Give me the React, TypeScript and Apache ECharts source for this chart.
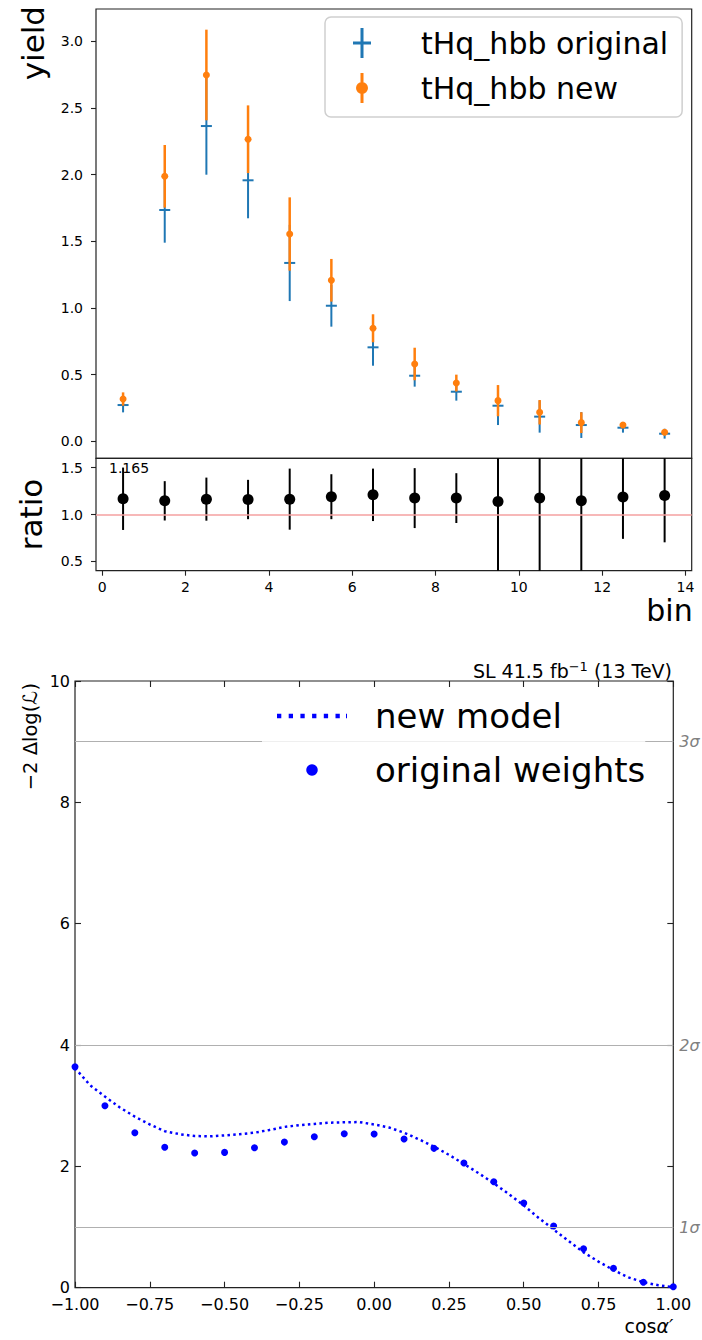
import React, { useEffect, useRef } from "react";
import * as echarts from "echarts";

// ---------- data: top panel (yields) ----------
const binCenters = [0.5, 1.5, 2.5, 3.5, 4.5, 5.5, 6.5, 7.5, 8.5, 9.5, 10.5, 11.5, 12.5, 13.5];
const originalYield = [0.272, 1.735, 2.365, 1.958, 1.338, 1.017, 0.705, 0.492, 0.372, 0.267, 0.185, 0.122, 0.102, 0.057];
const originalErr = [0.055, 0.245, 0.365, 0.285, 0.286, 0.157, 0.138, 0.082, 0.067, 0.145, 0.12, 0.097, 0.037, 0.037];
const newYield = [0.317, 1.988, 2.748, 2.266, 1.555, 1.208, 0.848, 0.58, 0.437, 0.305, 0.218, 0.14, 0.122, 0.068];
const newErr = [0.05, 0.235, 0.34, 0.254, 0.275, 0.16, 0.105, 0.122, 0.063, 0.117, 0.092, 0.078, 0.02, 0.015];

// ---------- data: ratio panel ----------
const ratioValues = [1.168, 1.146, 1.164, 1.16, 1.164, 1.19, 1.21, 1.175, 1.175, 1.139, 1.175, 1.146, 1.186, 1.203];
const ratioErr = [0.333, 0.21, 0.23, 0.21, 0.326, 0.24, 0.28, 0.32, 0.266, 0.85, 0.85, 0.85, 0.446, 0.5];
const ratioMeanLabel = "1.165";

// ---------- tick labels ----------
const yieldTicks = [0, 0.5, 1.0, 1.5, 2.0, 2.5, 3.0];
const ratioTicks = [0.5, 1.0, 1.5];
const binTicks = [0, 2, 4, 6, 8, 10, 12, 14];

// ---------- data: likelihood scan ----------
const cosAlphaPoints = [-1, -0.9, -0.8, -0.7, -0.6, -0.5, -0.4, -0.3, -0.2, -0.1, 0, 0.1, 0.2, 0.3, 0.4, 0.5, 0.6, 0.7, 0.8, 0.9, 1];
const originalWeights = [3.64, 3.0, 2.555, 2.314, 2.22, 2.23, 2.307, 2.4, 2.489, 2.538, 2.533, 2.45, 2.297, 2.055, 1.747, 1.396, 1.017, 0.643, 0.32, 0.089, 0.016];
const modelX = [-1, -0.95, -0.9, -0.85, -0.8, -0.75, -0.7, -0.65, -0.6, -0.55, -0.5, -0.45, -0.4, -0.35, -0.3, -0.25, -0.2, -0.15, -0.1, -0.05, 0, 0.05, 0.1, 0.15, 0.2, 0.25, 0.3, 0.35, 0.4, 0.45, 0.5, 0.55, 0.6, 0.65, 0.7, 0.75, 0.8, 0.85, 0.9, 0.95, 1];
const modelNll = [3.62, 3.34, 3.15, 2.97, 2.82, 2.69, 2.58, 2.53, 2.5, 2.495, 2.51, 2.53, 2.555, 2.6, 2.65, 2.68, 2.7, 2.72, 2.726, 2.73, 2.69, 2.64, 2.555, 2.445, 2.325, 2.19, 2.04, 1.885, 1.72, 1.545, 1.357, 1.15, 0.96, 0.77, 0.583, 0.43, 0.29, 0.17, 0.09, 0.04, 0.01];
const sigmaLevels = [1, 4, 9];
const sigmaLabels = ["1σ", "2σ", "3σ"];

const FONT = "DejaVu Sans";
const BLUE = "#1f77b4";
const ORANGE = "#ff7f0e";
const AX = "#222222";

const plusIcon = "path://M7.5 0H10.5V13.5H18V16.5H10.5V30H7.5V16.5H0V13.5H7.5Z";
const dotIcon = "path://M7.5 0H10.5V30H7.5Z M15 15A6 6 0 1 1 3 15A6 6 0 1 1 15 15Z";
const dottedLineIcon =
  "path://M0 0H4.3V4.3H0Z M11.7 0H16V4.3H11.7Z M23.4 0H27.7V4.3H23.4Z M35.1 0H39.4V4.3H35.1Z M46.8 0H51.1V4.3H46.8Z M58.5 0H62.8V4.3H58.5Z M69 0H70V4.3H69Z";

function clampY(v: number, cs: any) {
  return Math.max(cs.y, Math.min(cs.y + cs.height, v));
}

function makeErrorRender(kind: "plus" | "dot" | "bar", color: string, lw: number) {
  return (params: any, api: any) => {
    const x = api.value(0);
    const y = api.value(1);
    const e = api.value(2);
    const cs = params.coordSys;
    const c = api.coord([x, y]);
    const t = clampY(api.coord([x, y + e])[1], cs);
    const b = clampY(api.coord([x, y - e])[1], cs);
    const children: any[] = [
      { type: "line", shape: { x1: c[0], y1: t, x2: c[0], y2: b }, style: { stroke: color, lineWidth: lw } },
    ];
    if (kind === "plus") {
      children.push({ type: "line", shape: { x1: c[0] - 5.5, y1: c[1], x2: c[0] + 5.5, y2: c[1] }, style: { stroke: color, lineWidth: 2 } });
    } else if (kind === "dot") {
      children.push({ type: "circle", shape: { cx: c[0], cy: c[1], r: 3.5 }, style: { fill: color } });
    }
    return { type: "group", children };
  };
}

const tickStyle = { color: AX, width: 1.1 };
const labelStyle = (fs: number, margin: number) => ({ fontSize: fs, color: "#000", fontFamily: FONT, margin });
const noLine = { show: false, onZero: false };

export default function App() {
  const ref = useRef<HTMLDivElement>(null);
  useEffect(() => {
    document.body.style.margin = "0";
    if (!ref.current) return;
    const chart = echarts.init(ref.current, undefined, { renderer: "svg" });

    const origData = binCenters.map((x, i) => [x, originalYield[i], originalErr[i]]);
    const newData = binCenters.map((x, i) => [x, newYield[i], newErr[i]]);
    const ratioData = binCenters.map((x, i) => [x, ratioValues[i], ratioErr[i]]);

    const gridFrame = { show: true, borderColor: AX, borderWidth: 1.2, backgroundColor: "transparent" };

    const option: any = {
      animation: false,
      backgroundColor: "#ffffff",
      textStyle: { fontFamily: FONT },
      title: {
        text: "SL 41.5 fb{sup|−1} (13 TeV)",
        right: 30,
        top: 660,
        padding: 0,
        textStyle: {
          fontSize: 19,
          fontWeight: "normal",
          color: "#000",
          fontFamily: FONT,
          lineHeight: 22,
          rich: { sup: { fontSize: 13, verticalAlign: "top", lineHeight: 22, fontFamily: FONT, color: "#000" } },
        },
      },
      grid: [
        { left: 96, top: 9, width: 595.7, height: 449.3, ...gridFrame },
        { left: 96, top: 458.3, width: 595.7, height: 112.4, ...gridFrame },
        { left: 75, top: 681, width: 598.3, height: 606.7, ...gridFrame },
      ],
      xAxis: [
        { gridIndex: 0, type: "value", min: -0.15, max: 14.15, show: false, axisLine: noLine },
        {
          gridIndex: 1,
          type: "value",
          min: -0.15,
          max: 14.15,
          axisLine: noLine,
          splitLine: { show: false },
          axisTick: { show: true, customValues: binTicks, length: 5, lineStyle: tickStyle },
          axisLabel: { customValues: binTicks, ...labelStyle(14, 9) },
          name: "bin",
          nameLocation: "end",
          nameGap: 1,
          nameTextStyle: { fontSize: 30, color: "#000", fontFamily: FONT, align: "right", verticalAlign: "top", padding: [25, 0, 0, 0] },
        },
        {
          gridIndex: 2,
          type: "value",
          min: -1,
          max: 1,
          interval: 0.25,
          axisLine: noLine,
          splitLine: { show: false },
          axisTick: { show: true, inside: true, length: 6, lineStyle: tickStyle },
          axisLabel: {
            ...labelStyle(16, 9),
            lineHeight: 16,
            formatter: (v: number) => (v < 0 ? "−" : "") + Math.abs(v).toFixed(2),
          },
          name: "cos{it|α′}",
          nameLocation: "end",
          nameGap: 0,
          nameTextStyle: {
            fontSize: 19,
            color: "#000",
            fontFamily: FONT,
            align: "right",
            verticalAlign: "top",
            padding: [29, 0, 0, 0],
            rich: { it: { fontSize: 19, fontStyle: "italic", fontFamily: FONT, color: "#000" } },
          },
        },
        {
          gridIndex: 2,
          type: "value",
          position: "top",
          min: -1,
          max: 1,
          interval: 0.25,
          axisLine: noLine,
          splitLine: { show: false },
          axisTick: { show: true, inside: true, length: 6, lineStyle: tickStyle },
          axisLabel: { show: false },
        },
      ],
      yAxis: [
        {
          gridIndex: 0,
          type: "value",
          min: -0.1275,
          max: 3.243,
          axisLine: noLine,
          splitLine: { show: false },
          axisTick: { show: true, customValues: yieldTicks, length: 5, lineStyle: tickStyle },
          axisLabel: { customValues: yieldTicks, formatter: (v: number) => v.toFixed(1), ...labelStyle(14, 13) },
        },
        {
          gridIndex: 1,
          type: "value",
          min: 0.4,
          max: 1.6,
          axisLine: noLine,
          splitLine: { show: false },
          axisTick: { show: true, customValues: ratioTicks, length: 5, lineStyle: tickStyle },
          axisLabel: { customValues: ratioTicks, formatter: (v: number) => v.toFixed(1), ...labelStyle(14, 13) },
        },
        {
          gridIndex: 2,
          type: "value",
          min: 0,
          max: 10,
          interval: 2,
          axisLine: noLine,
          splitLine: { show: false },
          axisTick: { show: true, inside: true, length: 6, lineStyle: tickStyle },
          axisLabel: { ...labelStyle(16, 5), lineHeight: 14 },
        },
        {
          gridIndex: 2,
          type: "value",
          position: "right",
          min: 0,
          max: 10,
          interval: 2,
          axisLine: noLine,
          splitLine: { show: false },
          axisTick: { show: true, inside: true, length: 6, lineStyle: tickStyle },
          axisLabel: { show: false },
        },
      ],
      legend: [
        {
          data: [
            { name: "tHq_hbb original", icon: plusIcon },
            { name: "tHq_hbb new", icon: dotIcon },
          ],
          orient: "vertical",
          left: 325,
          top: 17,
          padding: [8, 14, 11, 28],
          itemWidth: 30,
          itemHeight: 30,
          itemGap: 9,
          selectedMode: false,
          z: 10,
          textStyle: { fontSize: 30, lineHeight: 36, color: "#000", fontFamily: FONT, padding: [0, 0, 0, 39] },
          borderColor: "#cfcfcf",
          borderWidth: 1.5,
          borderRadius: 6,
          backgroundColor: "#ffffff",
        },
        {
          data: [
            { name: "new model", icon: dottedLineIcon },
            { name: "original weights", icon: "circle" },
          ],
          orient: "vertical",
          left: 262,
          top: 690,
          padding: [6, 0, 6, 15],
          itemWidth: 70,
          itemHeight: 11.5,
          itemGap: 14,
          selectedMode: false,
          z: 10,
          textStyle: { fontSize: 34, lineHeight: 40, color: "#000", fontFamily: FONT, padding: [0, 0, 0, 23] },
          backgroundColor: "rgba(255,255,255,0.8)",
        },
      ],
      graphic: [
        { type: "text", x: 33, y: 6, rotation: Math.PI / 2, style: { text: "yield", fontSize: 31, fontFamily: FONT, fill: "#000", align: "right", verticalAlign: "middle" } },
        { type: "text", x: 31, y: 514.5, rotation: Math.PI / 2, style: { text: "ratio", fontSize: 31, fontFamily: FONT, fill: "#000", align: "center", verticalAlign: "middle" } },
        { type: "text", x: 109, y: 468, style: { text: ratioMeanLabel, fontSize: 14, fontFamily: FONT, fill: "#000", align: "left", verticalAlign: "middle" } },
        { type: "text", x: 30, y: 683, rotation: Math.PI / 2, style: { text: "−2 Δlog(ℒ)", fontSize: 19.5, fontFamily: FONT, fill: "#000", align: "right", verticalAlign: "middle" } },
      ],
      series: [
        {
          name: "tHq_hbb original",
          type: "custom",
          xAxisIndex: 0,
          yAxisIndex: 0,
          itemStyle: { color: BLUE },
          data: origData,
          encode: { x: 0, y: 1 },
          renderItem: makeErrorRender("plus", BLUE, 2),
          z: 3,
        },
        {
          name: "tHq_hbb new",
          type: "custom",
          xAxisIndex: 0,
          yAxisIndex: 0,
          itemStyle: { color: ORANGE },
          data: newData,
          encode: { x: 0, y: 1 },
          renderItem: makeErrorRender("dot", ORANGE, 2.5),
          z: 4,
        },
        {
          name: "ratio errors",
          type: "custom",
          xAxisIndex: 1,
          yAxisIndex: 1,
          data: ratioData,
          encode: { x: 0, y: 1 },
          renderItem: makeErrorRender("bar", "#000", 2),
          z: 4,
        },
        {
          name: "ratio",
          type: "scatter",
          xAxisIndex: 1,
          yAxisIndex: 1,
          symbolSize: 11,
          itemStyle: { color: "#000", opacity: 1 },
          data: binCenters.map((x, i) => [x, ratioValues[i]]),
          z: 5,
          markLine: {
            silent: true,
            symbol: ["none", "none"],
            label: { show: false },
            lineStyle: { color: "#f4a0a0", width: 1.5, type: "solid" },
            data: [{ yAxis: 1 }],
          },
        },
        {
          name: "new model",
          type: "line",
          xAxisIndex: 2,
          yAxisIndex: 2,
          symbol: "none",
          data: modelX.map((x, i) => [x, modelNll[i]]),
          itemStyle: { color: "#0000ff" },
          lineStyle: { color: "#0000ff", width: 2.5, type: [2.5, 3.3] },
          z: 3,
        },
        {
          name: "original weights",
          type: "scatter",
          xAxisIndex: 2,
          yAxisIndex: 2,
          symbolSize: 7,
          itemStyle: { color: "#0000ff", opacity: 1 },
          data: cosAlphaPoints.map((x, i) => [x, originalWeights[i]]),
          z: 4,
          markLine: {
            silent: true,
            symbol: ["none", "none"],
            lineStyle: { color: "#b0b0b0", width: 1, type: "solid" },
            label: { show: true, position: "end", distance: 6, color: "#808080", fontStyle: "italic", fontSize: 16, fontFamily: FONT },
            data: sigmaLevels.map((v, i) => ({ yAxis: v, name: sigmaLabels[i], label: { formatter: sigmaLabels[i] } })),
          },
        },
      ],
    };
    chart.setOption(option);
    return () => chart.dispose();
  }, []);
  return <div ref={ref} style={{ width: 702, height: 1340 }} />;
}
